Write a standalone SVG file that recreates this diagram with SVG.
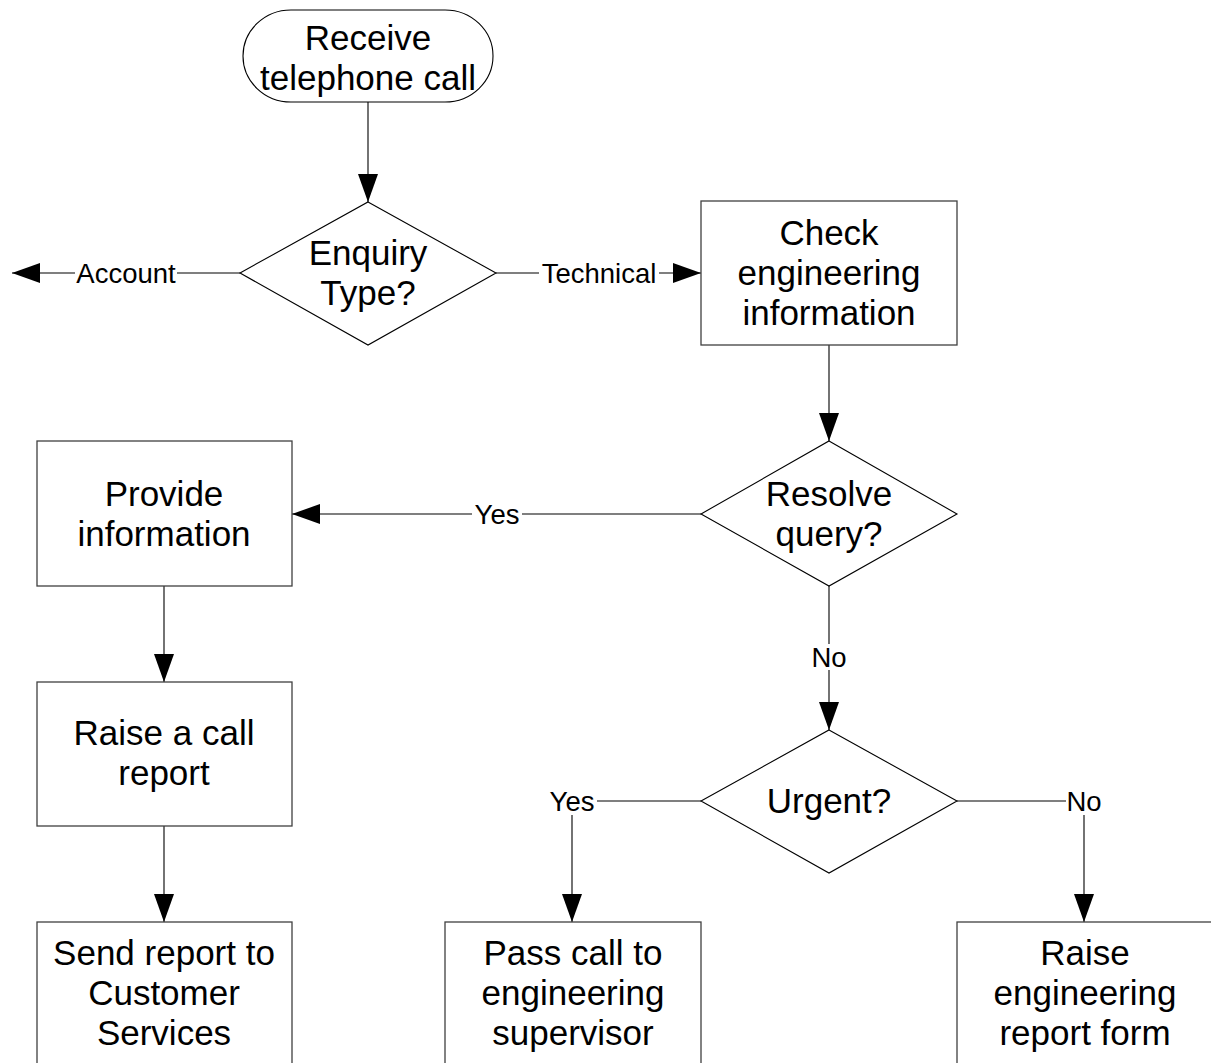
<svg xmlns="http://www.w3.org/2000/svg" width="1211" height="1063" viewBox="0 0 1211 1063">
<style>
.node{fill:#fff;stroke:#404040;stroke-width:1.3}
.dia{fill:#fff;stroke:#000;stroke-width:1.1}
.t{font-family:"Liberation Sans",Arial,sans-serif;font-size:35px;fill:#000;text-anchor:middle}
.lbl{font-family:"Liberation Sans",Arial,sans-serif;font-size:27.5px;fill:#000;text-anchor:middle}
.c{fill:none;stroke:#000;stroke-width:1.1}
</style>
<defs>
<marker id="ah" markerWidth="28" markerHeight="20" refX="28" refY="10" orient="auto" markerUnits="userSpaceOnUse">
<path d="M0,0 L28,10 L0,20 Z" fill="#000"/>
</marker>
</defs>
<rect width="1211" height="1063" fill="#fff"/>
<g id="connectors">
<path class="c" d="M368,102 V202" marker-end="url(#ah)"/>
<path class="c" d="M240,273 H177"/>
<path class="c" d="M75,273 H12" marker-end="url(#ah)"/>
<path class="c" d="M496,273 H539"/>
<path class="c" d="M659,273 H701" marker-end="url(#ah)"/>
<path class="c" d="M829,345 V441" marker-end="url(#ah)"/>
<path class="c" d="M701,514 H522"/>
<path class="c" d="M472,514 H292" marker-end="url(#ah)"/>
<path class="c" d="M829,586 V644"/>
<path class="c" d="M829,670 V730" marker-end="url(#ah)"/>
<path class="c" d="M164,586 V682" marker-end="url(#ah)"/>
<path class="c" d="M164,826 V922" marker-end="url(#ah)"/>
<path class="c" d="M701,801 H597"/>
<path class="c" d="M572,815 V922" marker-end="url(#ah)"/>
<path class="c" d="M957,801 H1066"/>
<path class="c" d="M1084,815 V922" marker-end="url(#ah)"/>
<text class="lbl" x="126" y="283">Account</text>
<text class="lbl" x="599" y="283">Technical</text>
<text class="lbl" x="497" y="524">Yes</text>
<text class="lbl" x="829" y="667">No</text>
<text class="lbl" x="572" y="811">Yes</text>
<text class="lbl" x="1084" y="811">No</text>
</g>
<g id="n-start">
<rect class="dia" x="243" y="10" width="250" height="92" rx="48" ry="46"/>
<text class="t" x="368" y="50">Receive</text>
<text class="t" x="368" y="90">telephone call</text>
</g>
<g id="n-enquiry">
<polygon class="dia" points="368,202 496,273 368,345 240,273"/>
<text class="t" x="368" y="265">Enquiry</text>
<text class="t" x="368" y="305">Type?</text>
</g>
<g id="n-check">
<rect class="node" x="701" y="201" width="256" height="144"/>
<text class="t" x="829" y="245">Check</text>
<text class="t" x="829" y="285">engineering</text>
<text class="t" x="829" y="325">information</text>
</g>
<g id="n-resolve">
<polygon class="dia" points="829,441 957,514 829,586 701,514"/>
<text class="t" x="829" y="506">Resolve</text>
<text class="t" x="829" y="546">query?</text>
</g>
<g id="n-provide">
<rect class="node" x="37" y="441" width="255" height="145"/>
<text class="t" x="164" y="506">Provide</text>
<text class="t" x="164" y="546">information</text>
</g>
<g id="n-raisecall">
<rect class="node" x="37" y="682" width="255" height="144"/>
<text class="t" x="164" y="745">Raise a call</text>
<text class="t" x="164" y="785">report</text>
</g>
<g id="n-urgent">
<polygon class="dia" points="829,730 957,801 829,873 701,801"/>
<text class="t" x="829" y="813">Urgent?</text>
</g>
<g id="n-send">
<rect class="node" x="37" y="922" width="255" height="144"/>
<text class="t" x="164" y="965">Send report to</text>
<text class="t" x="164" y="1005">Customer</text>
<text class="t" x="164" y="1045">Services</text>
</g>
<g id="n-pass">
<rect class="node" x="445" y="922" width="256" height="144"/>
<text class="t" x="573" y="965">Pass call to</text>
<text class="t" x="573" y="1005">engineering</text>
<text class="t" x="573" y="1045">supervisor</text>
</g>
<g id="n-raiseeng">
<rect class="node" x="957" y="922" width="256" height="144"/>
<text class="t" x="1085" y="965">Raise</text>
<text class="t" x="1085" y="1005">engineering</text>
<text class="t" x="1085" y="1045">report form</text>
</g>
</svg>
